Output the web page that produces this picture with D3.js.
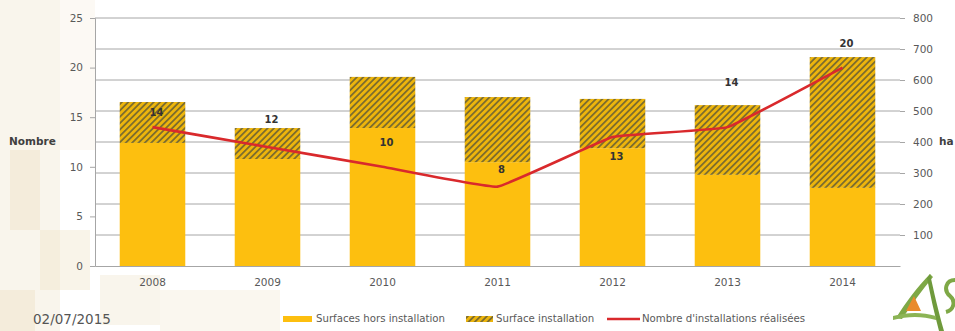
<!DOCTYPE html>
<html><head><meta charset="utf-8">
<script src="https://cdn.jsdelivr.net/npm/d3@7"></script>
<style>body{margin:0;background:#fff;}svg{display:block;font-family:'DejaVu Sans',sans-serif;}</style>
</head><body>
<svg id="c" width="955" height="331"></svg>
<script>
const years = ["2008","2009","2010","2011","2012","2013","2014"];
const surfacesHors = [397, 345, 445, 335, 380, 294, 252];
const surfaceInstallation = [132, 100, 165, 210, 159, 225, 422];
const nombre = [14, 12, 10, 8, 13, 14, 20];
const leftTicks = [0, 5, 10, 15, 20, 25];
const rightTicks = [100, 200, 300, 400, 500, 600, 700, 800];
const labelDy = [-14, -27, -24, -17, 20, -44, -24];

const svg = d3.select("#c");
const m = {l: 95, r: 900, t: 18, b: 266};

// faint decorative background tiles (slide template)
const bg = svg.append("g");
const tiles = [[0,0,60,331,0.35],[10,150,30,80,0.5],[40,230,50,60,0.4],[100,275,60,50,0.35],[160,290,120,41,0.3],[0,290,35,41,0.5],[60,0,35,150,0.2]];
tiles.forEach(t => bg.append("rect").attr("x",t[0]).attr("y",t[1]).attr("width",t[2]).attr("height",t[3]).attr("fill","#efe3c9").attr("opacity",t[4]));

const defs = svg.append("defs");
const pat = defs.append("pattern").attr("id","hatch").attr("patternUnits","userSpaceOnUse")
  .attr("width",4.5).attr("height",4.5).attr("patternTransform","rotate(45)");
pat.append("rect").attr("width",4.5).attr("height",4.5).attr("fill","#EDB50C");
pat.append("rect").attr("width",1.8).attr("height",4.5).attr("fill","#7d6d2e");

const x = d3.scaleBand().domain(years).range([m.l, m.r]).paddingInner(0.43).paddingOuter(0.215);
const yL = d3.scaleLinear().domain([0, 25]).range([m.b, m.t]);
const yR = d3.scaleLinear().domain([0, 800]).range([m.b, m.t]);

// gridlines (right axis)
svg.append("g").selectAll("line").data(rightTicks).join("line")
  .attr("x1", m.l).attr("x2", m.r).attr("y1", d => yR(d)).attr("y2", d => yR(d))
  .attr("stroke", "#a6a6a6").attr("stroke-width", 1);

// left axis
const gl = svg.append("g").attr("transform", `translate(${m.l},0)`)
  .call(d3.axisLeft(yL).tickValues(leftTicks).tickSize(5).tickPadding(7));
gl.select(".domain").attr("stroke", "#a6a6a6");
gl.selectAll(".tick line").attr("stroke", "#a6a6a6");
gl.selectAll("text").attr("fill", "#595959").attr("font-size", 10.5).attr("font-family","'DejaVu Sans',sans-serif");

// right axis
const gr = svg.append("g").attr("transform", `translate(${m.r},0)`)
  .call(d3.axisRight(yR).tickValues(rightTicks).tickSize(5).tickPadding(8));
gr.select(".domain").remove();
gr.selectAll(".tick line").attr("stroke", "#a6a6a6");
gr.selectAll("text").attr("fill", "#595959").attr("font-size", 10.5).attr("font-family","'DejaVu Sans',sans-serif");

// bars
const stackData = years.map((y, i) => ({year: y, hors: surfacesHors[i], inst: surfaceInstallation[i]}));
svg.append("g").selectAll("rect").data(stackData).join("rect")
  .attr("x", d => x(d.year)).attr("width", x.bandwidth())
  .attr("y", d => yR(d.hors)).attr("height", d => yR(0) - yR(d.hors))
  .attr("fill", "#FDBF0F");
svg.append("g").selectAll("rect").data(stackData).join("rect")
  .attr("x", d => x(d.year)).attr("width", x.bandwidth())
  .attr("y", d => yR(d.hors + d.inst)).attr("height", d => yR(d.hors) - yR(d.hors + d.inst))
  .attr("fill", "url(#hatch)");

// bottom axis
const gb = svg.append("g").attr("transform", `translate(0,${m.b})`)
  .call(d3.axisBottom(x).tickSize(0).tickPadding(13));
gb.select(".domain").attr("stroke", "#a6a6a6");
gb.selectAll("text").attr("fill", "#595959").attr("font-size", 10.5).attr("font-family","'DejaVu Sans',sans-serif");

// line
const lineData = years.map((y, i) => ({year: y, v: nombre[i], dy: labelDy[i]}));
svg.append("path").datum(lineData)
  .attr("d", d3.line().x(d => x(d.year) + x.bandwidth()/2).y(d => yL(d.v)).curve(d3.curveCardinal.tension(0.75)))
  .attr("fill", "none").attr("stroke", "#D9292C").attr("stroke-width", 2.6);

svg.append("g").selectAll("text").data(lineData).join("text")
  .attr("x", d => x(d.year) + x.bandwidth()/2 + 4).attr("y", d => yL(d.v) + d.dy)
  .attr("text-anchor", "middle").attr("dominant-baseline", "middle")
  .attr("font-size", 10).attr("font-weight", "bold").attr("fill", "#333")
  .text(d => d.v);

// axis titles
svg.append("text").attr("x", 9).attr("y", 142).attr("dominant-baseline","middle")
  .attr("font-size", 10.5).attr("font-weight","bold").attr("fill","#404040").text("Nombre");
svg.append("text").attr("x", 939).attr("y", 142).attr("dominant-baseline","middle")
  .attr("font-size", 10.5).attr("font-weight","bold").attr("fill","#404040").text("ha");

// legend
const lg = svg.append("g").attr("font-size", 10.2).attr("fill", "#595959");
lg.append("rect").attr("x", 283).attr("y", 316).attr("width", 29).attr("height", 6).attr("fill", "#FDBF0F");
lg.append("text").attr("x", 316).attr("y", 319).attr("dominant-baseline","middle").text("Surfaces hors installation");
lg.append("rect").attr("x", 466).attr("y", 316).attr("width", 27).attr("height", 6).attr("fill", "url(#hatch)");
lg.append("text").attr("x", 496).attr("y", 319).attr("dominant-baseline","middle").text("Surface installation");
lg.append("line").attr("x1", 607).attr("x2", 640).attr("y1", 319).attr("y2", 319).attr("stroke", "#D9292C").attr("stroke-width", 2.4);
lg.append("text").attr("x", 642).attr("y", 319).attr("dominant-baseline","middle").text("Nombre d'installations réalisées");

// date
svg.append("text").attr("x", 33).attr("y", 324).attr("font-size", 13.5).attr("fill", "#555").text("02/07/2015");

// logo fragment
const logo = svg.append("g");
logo.append("path").attr("d","M896,318 C906,302 918,286 930,274 L933,277 C922,290 912,304 902,319 Z").attr("fill","#7ea846");
logo.append("path").attr("d","M930,274 C934,292 938,310 944,331 L939,331 C934,312 930,294 927,278 Z").attr("fill","#6f9a3c");
logo.append("path").attr("d","M893,316 C908,312 922,312 936,316 L936,320 C922,316 908,316 893,320 Z").attr("fill","#8cb455");
logo.append("path").attr("d","M906,311 L914,296 L921,311 Z").attr("fill","#e98b2c");
logo.append("path").attr("d","M955,280 C946,280 943,290 950,296 C956,301 954,310 946,312").attr("fill","none").attr("stroke","#7ea846").attr("stroke-width",4);
</script>
</body></html>
